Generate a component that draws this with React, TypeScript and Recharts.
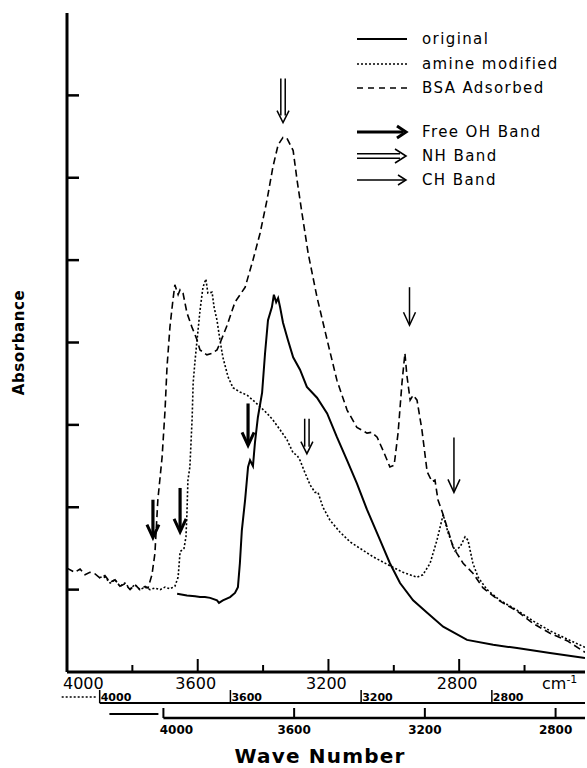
import React from 'react';
import { LineChart, Line, XAxis, YAxis, ReferenceDot } from 'recharts';

// [wave number, absorbance], each on its own axis
const bsaAdsorbed: [number, number][] = [
  [4000, 1.26], [3976, 1.21], [3960, 1.25], [3945, 1.18], [3930, 1.21], [3914, 1.19],
  [3899, 1.14], [3884, 1.17], [3868, 1.09], [3853, 1.12], [3838, 1.04], [3823, 1.07],
  [3807, 1.0], [3792, 1.06], [3777, 1.0], [3761, 1.04], [3752, 1.02], [3740, 1.18],
  [3731, 1.44], [3722, 2.09], [3709, 2.61], [3700, 3.18], [3694, 3.7], [3685, 4.19],
  [3676, 4.51], [3670, 4.7], [3660, 4.58], [3654, 4.64], [3645, 4.6], [3633, 4.36],
  [3618, 4.19], [3602, 4.03], [3593, 3.91], [3572, 3.85], [3556, 3.87], [3541, 3.91],
  [3532, 3.99], [3510, 4.21], [3486, 4.49], [3455, 4.67], [3431, 5.0], [3409, 5.33],
  [3388, 5.73], [3370, 6.13], [3354, 6.4], [3339, 6.49], [3327, 6.48], [3308, 6.33],
  [3296, 5.97], [3281, 5.57], [3262, 5.08], [3235, 4.55], [3204, 4.03], [3174, 3.54],
  [3143, 3.18], [3113, 2.97], [3082, 2.9], [3067, 2.91], [3051, 2.85], [3033, 2.69],
  [3012, 2.49], [2999, 2.51], [2987, 2.9], [2975, 3.51], [2966, 3.87], [2960, 3.6],
  [2950, 3.3], [2941, 3.36], [2929, 3.3], [2914, 2.94], [2898, 2.43], [2883, 2.31],
  [2874, 2.33], [2865, 2.09], [2849, 1.91], [2834, 1.72], [2819, 1.52], [2807, 1.44],
  [2788, 1.32], [2758, 1.2], [2727, 1.02], [2675, 0.86], [2623, 0.74], [2574, 0.59],
  [2522, 0.47], [2470, 0.38], [2415, 0.24],
];

const amineModified: [number, number][] = [
  [4000, 1.15], [3984, 1.15], [3968, 1.08], [3953, 1.12], [3938, 1.04], [3923, 1.08],
  [3907, 1.01], [3892, 1.06], [3877, 1.0], [3861, 1.03], [3846, 1.0], [3831, 1.02],
  [3815, 1.0], [3800, 1.03], [3785, 1.01], [3770, 1.04], [3760, 1.15], [3754, 1.46],
  [3742, 1.5], [3736, 1.64], [3733, 1.93], [3730, 2.33], [3724, 2.49], [3717, 3.09],
  [3714, 3.51], [3708, 3.79], [3702, 4.03], [3693, 4.39], [3684, 4.67], [3675, 4.77],
  [3669, 4.6], [3656, 4.61], [3650, 4.43], [3641, 4.27], [3632, 4.03], [3623, 3.82],
  [3607, 3.58], [3592, 3.45], [3571, 3.4], [3549, 3.36], [3531, 3.3], [3509, 3.22],
  [3488, 3.14], [3470, 3.06], [3448, 2.94], [3427, 2.82], [3408, 2.66], [3396, 2.63],
  [3387, 2.57], [3372, 2.42], [3356, 2.27], [3341, 2.18], [3332, 2.18], [3317, 2.0],
  [3295, 1.84], [3265, 1.7], [3234, 1.58], [3203, 1.5], [3164, 1.4], [3112, 1.29],
  [3072, 1.21], [3029, 1.15], [3011, 1.18], [2989, 1.32], [2968, 1.6], [2949, 1.91],
  [2934, 1.69], [2913, 1.47], [2897, 1.52], [2882, 1.64], [2873, 1.6], [2858, 1.32],
  [2842, 1.15], [2815, 1.0], [2775, 0.87], [2723, 0.75], [2674, 0.62], [2622, 0.5],
  [2570, 0.4], [2515, 0.3],
];

const original: [number, number][] = [
  [3958, 0.95], [3928, 0.93], [3903, 0.92], [3888, 0.91], [3873, 0.91], [3857, 0.9],
  [3836, 0.87], [3830, 0.84], [3818, 0.87], [3796, 0.91], [3781, 0.96], [3772, 1.03],
  [3766, 1.32], [3760, 1.72], [3750, 2.09], [3741, 2.49], [3735, 2.57], [3726, 2.5],
  [3720, 2.78], [3711, 3.09], [3698, 3.39], [3689, 3.87], [3680, 4.27], [3668, 4.43],
  [3662, 4.58], [3655, 4.49], [3649, 4.54], [3643, 4.43], [3634, 4.24], [3619, 4.03],
  [3603, 3.82], [3582, 3.67], [3561, 3.46], [3530, 3.33], [3499, 3.14], [3469, 2.85],
  [3438, 2.57], [3408, 2.29], [3377, 1.97], [3337, 1.6], [3307, 1.32], [3276, 1.08],
  [3236, 0.87], [3193, 0.72], [3144, 0.55], [3071, 0.39], [2991, 0.33], [2918, 0.29],
  [2817, 0.23], [2710, 0.17],
];

const toRows = (pts: [number, number][]) => pts.map(([wn, a]) => ({ wn, a }));

// band arrows, placed on the BSA wave number axis: wave number and absorbance at the tip
const bandArrows: { wn: number; a: number; kind: 'oh' | 'nh' | 'ch' }[] = [
  { wn: 3339, a: 6.67, kind: 'nh' },
  { wn: 2952, a: 4.21, kind: 'ch' },
  { wn: 2816, a: 2.18, kind: 'ch' },
  { wn: 3737, a: 1.63, kind: 'oh' },
  { wn: 3654, a: 1.7, kind: 'oh' },
  { wn: 3446, a: 2.75, kind: 'oh' },
  { wn: 3266, a: 2.65, kind: 'nh' },
];
const arrowLen = [44, 38, 55, 38, 44, 42, 35];

const seriesNames = ['original', 'amine modified', 'BSA Adsorbed'];
const bandNames = ['Free OH Band', 'NH Band', 'CH Band'];

const mainTicks = [4000, 3800, 3600, 3400, 3200, 3000, 2800, 2600];
const shiftedTicks = [4000, 3600, 3200, 2800];
const yTicks = [0, 1, 2, 3, 4, 5, 6, 7, 8];

const FONT = '"DejaVu Sans", sans-serif';
const PLOT_RIGHT = 585;

const MainTick = (props: any) => {
  const { x, y, payload } = props;
  const v = payload.value;
  const major = v % 400 === 0;
  return (
    <g>
      <line x1={x} y1={y} x2={x} y2={y - (major ? 13 : 7)} stroke="#000" strokeWidth={2} />
      {major && (
        <text
          x={v === 4000 ? x - 4 : x - 2}
          y={y + 17}
          textAnchor={v === 4000 ? 'start' : 'middle'}
          fontSize={16}
          fontFamily={FONT}
          fill="#000"
        >
          {v}
        </text>
      )}
    </g>
  );
};

const AmineTick = (props: any) => {
  const { x, y, payload } = props;
  const first = payload.value === 4000;
  return (
    <g>
      {first && <line x1={x} y1={y} x2={PLOT_RIGHT} y2={y} stroke="#000" strokeWidth={2} />}
      {first && (
        <line x1={x - 38} y1={y - 6} x2={x - 4} y2={y - 6} stroke="#000" strokeWidth={1.5} strokeDasharray="2 2" />
      )}
      <line x1={x} y1={y - 13} x2={x} y2={y} stroke="#000" strokeWidth={1.5} />
      <text x={x + 1} y={y - 2} fontSize={11} fontFamily={FONT} fontWeight="bold" fill="#000">
        {payload.value}
      </text>
    </g>
  );
};

const OrigTick = (props: any) => {
  const { x, y, payload } = props;
  const first = payload.value === 4000;
  return (
    <g>
      {first && <line x1={x} y1={y} x2={PLOT_RIGHT} y2={y} stroke="#000" strokeWidth={2.5} />}
      {first && <line x1={x - 54} y1={y - 4} x2={x - 5} y2={y - 4} stroke="#000" strokeWidth={2} />}
      <line x1={x} y1={y - 10} x2={x} y2={y} stroke="#000" strokeWidth={2} />
      <text
        x={first ? x + 13 : x}
        y={y + 16}
        textAnchor="middle"
        fontSize={12}
        fontFamily={FONT}
        fontWeight="bold"
        fill="#000"
      >
        {payload.value}
      </text>
    </g>
  );
};

const YTick = (props: any) => {
  const { x, y, payload } = props;
  if (payload.value <= 0 || payload.value >= 8) return <g />;
  return <line x1={x} y1={y} x2={x + 12} y2={y} stroke="#000" strokeWidth={2.5} />;
};

const Arrow = ({ cx, cy, kind, len }: { cx: number; cy: number; kind: string; len: number }) => {
  if (kind === 'oh') {
    return (
      <g fill="none" stroke="#000">
        <line x1={cx} y1={cy - len} x2={cx} y2={cy - 3} strokeWidth={3.2} />
        <polyline points={`${cx - 6},${cy - 13} ${cx},${cy} ${cx + 6},${cy - 13}`} strokeWidth={3} />
      </g>
    );
  }
  if (kind === 'nh') {
    return (
      <g fill="none" stroke="#000" strokeWidth={1.5}>
        <line x1={cx - 2.2} y1={cy - len} x2={cx - 2.2} y2={cy - 7} />
        <line x1={cx + 2.2} y1={cy - len} x2={cx + 2.2} y2={cy - 7} />
        <polyline points={`${cx - 6},${cy - 12} ${cx},${cy} ${cx + 6},${cy - 12}`} />
      </g>
    );
  }
  return (
    <g fill="none" stroke="#000" strokeWidth={1.5}>
      <line x1={cx} y1={cy - len} x2={cx} y2={cy - 1} />
      <polyline points={`${cx - 6},${cy - 13} ${cx},${cy} ${cx + 6},${cy - 13}`} />
    </g>
  );
};

const LegendBox = () => {
  const rowY = [39, 64, 88];
  const bandY = [132, 156, 180];
  const dashes = [undefined, '2 2', '6 5'];
  const textStyle = { fontFamily: FONT, fontSize: 15, letterSpacing: 1.4 };
  return (
    <g>
      {seriesNames.map((name, i) => (
        <g key={name}>
          <line
            x1={357}
            y1={rowY[i]}
            x2={407}
            y2={rowY[i]}
            stroke="#000"
            strokeWidth={i === 0 ? 2 : 1.6}
            strokeDasharray={dashes[i]}
          />
          <text x={422} y={rowY[i] + 5} fill="#000" style={textStyle}>
            {name}
          </text>
        </g>
      ))}
      {bandNames.map((name, i) => {
        const y = bandY[i];
        return (
          <g key={name}>
            {i === 0 && (
              <g fill="none" stroke="#000" strokeWidth={3}>
                <line x1={357} y1={y} x2={403} y2={y} />
                <polyline points={`397,${y - 6} 406,${y} 397,${y + 6}`} />
              </g>
            )}
            {i === 1 && (
              <g fill="none" stroke="#000" strokeWidth={1.6}>
                <line x1={357} y1={y - 2.3} x2={400} y2={y - 2.3} />
                <line x1={357} y1={y + 2.3} x2={400} y2={y + 2.3} />
                <polyline points={`395,${y - 7} 406,${y} 395,${y + 7}`} />
              </g>
            )}
            {i === 2 && (
              <g fill="none" stroke="#000" strokeWidth={1.5}>
                <line x1={357} y1={y} x2={405} y2={y} />
                <polyline points={`398,${y - 5} 406,${y} 398,${y + 5}`} />
              </g>
            )}
            <text x={422} y={y + 5} fill="#000" style={textStyle}>
              {name}
            </text>
          </g>
        );
      })}
    </g>
  );
};

export default function App() {
  return (
    <div style={{ position: 'absolute', left: 0, top: 0, width: 587, height: 768, background: '#fff' }}>
      <LineChart width={587} height={768} margin={{ top: 13, right: 2, bottom: 0, left: 0 }}>
        {/* bottom axes stack in id order: x1 next to the plot */}
        <XAxis
          xAxisId="x1bsa"
          dataKey="wn"
          type="number"
          domain={[2415, 4000]}
          reversed
          allowDataOverflow
          ticks={mainTicks}
          interval={0}
          height={31}
          tickSize={0}
          tickMargin={0}
          tickLine={false}
          axisLine={{ stroke: '#000', strokeWidth: 3 }}
          tick={MainTick}
          label={{
            content: (p: any) => (
              <text
                x={p.viewBox.x + p.viewBox.width - 43}
                y={p.viewBox.y + 17}
                fontSize={16}
                fontFamily={FONT}
                fill="#000"
              >
                cm
                <tspan dy={-6} fontSize={11}>
                  -1
                </tspan>
              </text>
            ),
          }}
        />
        <XAxis
          xAxisId="x2amine"
          dataKey="wn"
          type="number"
          domain={[2515, 4100]}
          reversed
          allowDataOverflow
          ticks={shiftedTicks}
          interval={0}
          height={15}
          tickSize={0}
          tickMargin={0}
          tickLine={false}
          axisLine={false}
          tick={AmineTick}
        />
        <XAxis
          xAxisId="x3orig"
          dataKey="wn"
          type="number"
          domain={[2710, 4295]}
          reversed
          allowDataOverflow
          ticks={shiftedTicks}
          interval={0}
          height={50}
          tickSize={0}
          tickMargin={0}
          tickLine={false}
          axisLine={false}
          tick={OrigTick}
          label={{
            content: (p: any) => (
              <text
                x={320}
                y={p.viewBox.y + 45}
                textAnchor="middle"
                fontSize={20}
                fontWeight="bold"
                letterSpacing={1.2}
                fontFamily={FONT}
                fill="#000"
              >
                Wave Number
              </text>
            ),
          }}
        />
        <XAxis
          xAxisId="x4top"
          orientation="top"
          type="number"
          domain={[2415, 4000]}
          reversed
          height={0}
          tick={false}
          tickLine={false}
          axisLine={{ stroke: '#000', strokeWidth: 2 }}
        />
        <YAxis
          yAxisId="left"
          type="number"
          domain={[0, 8]}
          ticks={yTicks}
          interval={0}
          width={67}
          tickSize={0}
          tickMargin={0}
          tickLine={false}
          axisLine={{ stroke: '#000', strokeWidth: 3 }}
          tick={YTick}
          label={{
            value: 'Absorbance',
            angle: -90,
            position: 'insideLeft',
            offset: 19,
            style: { textAnchor: 'middle', fontFamily: FONT, fontSize: 15, fontWeight: 'bold', letterSpacing: 0.6, fill: '#000' },
          }}
        />
        <YAxis
          yAxisId="right"
          orientation="right"
          type="number"
          domain={[0, 8]}
          width={0}
          tick={false}
          tickLine={false}
          axisLine={{ stroke: '#000', strokeWidth: 1.5 }}
        />
        <Line
          data={toRows(original)}
          xAxisId="x3orig"
          yAxisId="left"
          dataKey="a"
          type="linear"
          dot={false}
          stroke="#000"
          strokeWidth={2}
          isAnimationActive={false}
        />
        <Line
          data={toRows(amineModified)}
          xAxisId="x2amine"
          yAxisId="left"
          dataKey="a"
          type="linear"
          dot={false}
          stroke="#000"
          strokeWidth={1.6}
          strokeDasharray="2 2"
          isAnimationActive={false}
        />
        <Line
          data={toRows(bsaAdsorbed)}
          xAxisId="x1bsa"
          yAxisId="left"
          dataKey="a"
          type="linear"
          dot={false}
          stroke="#000"
          strokeWidth={1.6}
          strokeDasharray="7 4"
          isAnimationActive={false}
        />
        {bandArrows.map((b, i) => (
          <ReferenceDot
            key={i}
            xAxisId="x1bsa"
            yAxisId="left"
            x={b.wn}
            y={b.a}
            r={0}
            ifOverflow="visible"
            shape={(p: any) => <Arrow cx={p.cx} cy={p.cy} kind={b.kind} len={arrowLen[i]} />}
          />
        ))}
        <LegendBox />
      </LineChart>
    </div>
  );
}
